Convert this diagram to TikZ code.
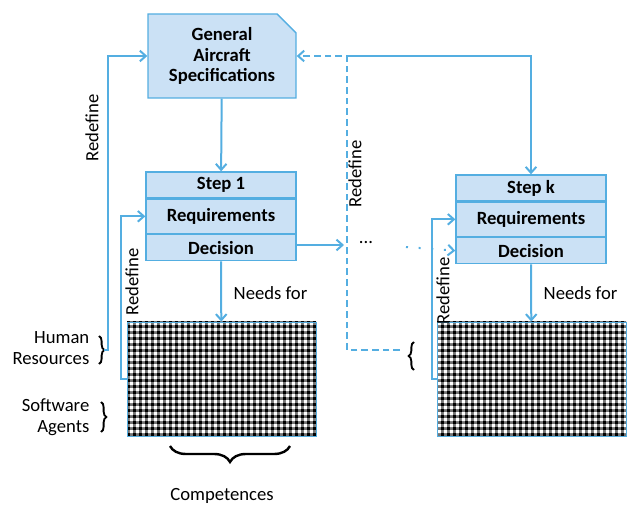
\documentclass[tikz,border=0pt]{standalone}
\usepackage{fontspec}
\setmainfont{Carlito}
\usetikzlibrary{positioning,arrows.meta,shapes.misc,patterns,decorations.pathreplacing}
\definecolor{boxblue}{RGB}{203,225,245}
\definecolor{lineblue}{RGB}{84,174,225}
% black, white and grey checks of the competence tables
\pgfdeclarepatterninherentlycolored{checks}{\pgfpointorigin}{\pgfqpoint{4.8pt}{4.8pt}}{\pgfqpoint{4.8pt}{4.8pt}}{%
  \pgfsetfillcolor{black!55}\pgfpathrectangle{\pgfpointorigin}{\pgfqpoint{4.8pt}{4.8pt}}\pgfusepath{fill}%
  \pgfsetfillcolor{black}\pgfpathrectangle{\pgfpointorigin}{\pgfqpoint{2.4pt}{2.4pt}}\pgfusepath{fill}%
  \pgfsetfillcolor{white}\pgfpathrectangle{\pgfqpoint{2.4pt}{2.4pt}}{\pgfqpoint{2.4pt}{2.4pt}}\pgfusepath{fill}}

\begin{document}
\begin{tikzpicture}[x=0.75pt,y=-0.75pt,
  font=\fontsize{14}{16}\selectfont,
  box/.style={draw=lineblue, fill=boxblue, line width=1pt, minimum width=112.5pt, inner sep=0pt, font=\fontsize{14}{15.5}\selectfont\bfseries},
  flow/.style={draw=lineblue, line width=1.5pt, -{Straight Barb[length=4.5pt,width=8pt]}},
  competgrid/.style={draw=lineblue, line width=0.6pt, pattern=checks, minimum width=141.75pt, minimum height=85.5pt, inner sep=0pt},
  curly/.style={draw=black, line width=1.4pt, decorate}]
\useasboundingbox (0,0) rectangle (629,506);

% specification sheet
\node[box, chamfered rectangle, chamfered rectangle corners=north east, chamfered rectangle xsep=11pt,
  minimum width=111pt, minimum height=63pt, align=center] (spec) at (222,56) {General\\Aircraft\\Specifications};

% first step
\node[box, minimum height=19.5pt] (stepone) at (221,185) {Step 1};
\node[box, minimum height=25.5pt, below=0pt of stepone] (reqone) {Requirements};
\node[box, minimum height=19.5pt, below=0pt of reqone] (decone) {Decision};

% step k
\node[box, minimum height=19.5pt] (stepk) at (531,188) {Step k};
\node[box, minimum height=25.5pt, below=0pt of stepk] (reqk) {Requirements};
\node[box, minimum height=19.5pt, below=0pt of reqk] (deck) {Decision};

% competence tables
\node[competgrid] (gridone) at (221.5,379) {};
\node[competgrid] (gridk) at (531.5,379) {};

% labels
\node[align=right, anchor=east] (human) at (94,348) {Human\\Resources};
\node[align=right, anchor=east] (software) at (94,417) {Software\\Agents};
\node (compet) at (222,496) {Competences};
\node[anchor=west] (needone) at (229,293) {Needs for};
\node[anchor=west] (needk) at (539,293) {Needs for};
\node (dots) at (366,243) {...};
\node[rotate=90] (redefa) at (92,128) {Redefine};
\node[rotate=90] (redefb) at (132,282) {Redefine};
\node[rotate=90] (redefc) at (355,174) {Redefine};
\node[rotate=90] (redefd) at (443,291) {Redefine};

% braces
\draw[curly, decoration={brace, amplitude=4pt}] (99,336) -- (99,364) coordinate[midway, xshift=4pt] (hrtip);
\draw[curly, decoration={brace, amplitude=4pt}] (101,402) -- (101,432);
\draw[curly, decoration={brace, amplitude=4pt}] (414,370) -- (414,342);
\draw[curly, line width=1.8pt, decoration={brace, amplitude=12pt}] (290,446) -- (170,446);

\coordinate (junc) at (347,56);
\coordinate (dashend) at (400,350);
\coordinate (gap) at (344,245);
\coordinate (dotstart) at (406,247);

% connectors
\draw[flow] (spec) -- (stepone);
\draw[flow] (decone) -- (gridone);
\draw[flow] (deck) -- (gridk);
\draw[flow] (hrtip) -- ++(4,0) |- (spec.west);
\draw[flow] (gridone.west) -- ++(-6,0) |- (reqone.west);
\draw[flow] (gridk.west) -- ++(-5,0) |- (reqk.west);
\draw[flow] (junc) -| (stepk.north);
\draw[flow, dash pattern=on 5pt off 3pt] (dashend) -| (junc) -- (spec.east);
\draw[flow] (decone.east |- gap) -- (gap);
\draw[flow, dash pattern=on 1.5pt off 8pt] (dotstart) -- (deck.west);
\end{tikzpicture}
\end{document}
